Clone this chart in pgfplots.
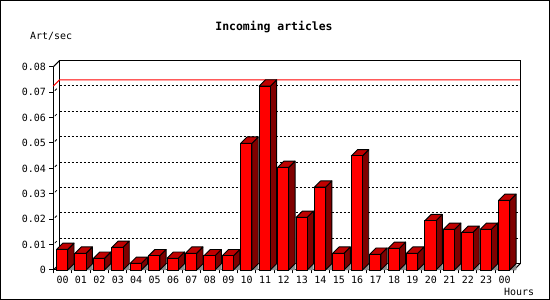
\documentclass[border=0pt]{standalone}
\usepackage{pgfplots}
\pgfplotsset{compat=1.18}
\usepackage{pgfplotstable}
\usepackage{fontspec}
\setmainfont{DejaVu Sans Mono}
\definecolor{barfront}{RGB}{255,0,0}
\definecolor{bartop}{RGB}{192,0,0}
\definecolor{barside}{RGB}{128,0,0}
\definecolor{barshadow}{RGB}{140,140,140}
\pgfdeclareplotmark{emptymark}{}
\pgfplotstableread{
x y
0.5 0.0081
1.5 0.0066
2.5 0.0046
3.5 0.0089
4.5 0.0026
5.5 0.0056
6.5 0.0046
7.5 0.0066
8.5 0.0056
9.5 0.0056
10.5 0.0499
11.5 0.0724
12.5 0.0404
13.5 0.0207
14.5 0.0326
15.5 0.0066
16.5 0.0449
17.5 0.0062
18.5 0.0085
19.5 0.0066
20.5 0.0194
21.5 0.0160
22.5 0.0148
23.5 0.0160
24.5 0.0274
}\articles
\begin{document}
\begin{tikzpicture}[font=\fontsize{10}{12}\selectfont]
\useasboundingbox (0,0) rectangle (550bp,300bp);
\draw[line width=1.2bp] (0.6bp,0.6bp) rectangle (549.4bp,299.4bp);
\node[font=\bfseries\fontsize{11.5}{13}\selectfont] at (274bp,273bp) {Incoming articles};
\node[anchor=west, inner sep=0] at (30bp,263.5bp) {Art/sec};
\node[anchor=west, inner sep=0] at (504bp,8bp) {Hours};
\begin{axis}[
  at={(53.3bp,30bp)}, anchor=origin,
  x=18.42bp, y=2540bp,
  xmin=0, xmax=25, ymin=0, ymax=0.08,
  enlargelimits=false, clip=false,
  axis lines*=left,
  axis line style={line width=1bp},
  tick align=outside,
  major tick length=4bp, minor tick length=3.5bp,
  tick style={line width=1bp, black},
  scaled y ticks=false,
  ytick={0,0.01,0.02,0.03,0.04,0.05,0.06,0.07,0.08},
  yticklabels={0,0.01,0.02,0.03,0.04,0.05,0.06,0.07,0.08},
  xtick={0.5,1.5,...,24.5},
  xticklabels={00,01,02,03,04,05,06,07,08,09,10,11,12,13,14,15,16,17,18,19,20,21,22,23,00},
  minor xtick={0,1,...,25},
  major x tick style={draw=none},
  tick label style={font=\fontsize{10}{12}\selectfont},
  xticklabel style={yshift=1.5bp},
]
% back wall
\draw[line width=1bp] ([xshift=6.3bp,yshift=6.3bp]axis cs:0,0) rectangle ([xshift=6.3bp,yshift=6.3bp]axis cs:25,0.08);
\draw[line width=1bp] (axis cs:0,0) -- ([xshift=6.3bp,yshift=6.3bp]axis cs:0,0);
\draw[line width=1bp] (axis cs:0,0.08) -- ([xshift=6.3bp,yshift=6.3bp]axis cs:0,0.08);
\draw[line width=1bp] (axis cs:25,0) -- ([xshift=6.3bp,yshift=6.3bp]axis cs:25,0);
\pgfplotsinvokeforeach{0.01,0.02,0.03,0.04,0.05,0.06,0.07}{
  \draw[line width=1bp, dash pattern=on 2bp off 2bp] ([xshift=6.3bp,yshift=6.3bp]axis cs:0,#1) -- ([xshift=6.3bp,yshift=6.3bp]axis cs:25,#1);
  \draw[line width=0.8bp] ([xshift=1.5bp,yshift=1.5bp]axis cs:0,#1) -- ([xshift=3.5bp,yshift=3.5bp]axis cs:0,#1);
}
% max line
\draw[line width=1bp, red] (axis cs:0,0.0724) -- ([xshift=6.3bp,yshift=6.3bp]axis cs:0,0.0724) -- ([xshift=6.3bp,yshift=6.3bp]axis cs:25,0.0724);
% bars
\addplot[scatter, only marks, mark=emptymark,
  visualization depends on={y \as \barval},
  scatter/@pre marker code/.code={%
    \pgfmathsetlengthmacro{\barh}{\barval*2540bp}%
    \fill[barshadow] (5.2bp,-\barh) -- ++(6.3bp,6.3bp) -- ++(0,-6.3bp) -- cycle;
    \filldraw[fill=barside, draw=black, line width=0.9bp, line join=round] (5.2bp,0) -- (5.2bp,-\barh) -- ++(6.3bp,6.3bp) -- (11.5bp,6.3bp) -- cycle;
    \filldraw[fill=bartop, draw=black, line width=0.9bp, line join=round] (-6bp,0) -- (5.2bp,0) -- (11.5bp,6.3bp) -- (0.3bp,6.3bp) -- cycle;
    \filldraw[fill=barfront, draw=black, line width=0.9bp] (-6bp,-\barh) rectangle (5.2bp,0);
  },
  scatter/@post marker code/.code={},
] table[x=x, y=y] {\articles};
\end{axis}
\end{tikzpicture}
\end{document}
